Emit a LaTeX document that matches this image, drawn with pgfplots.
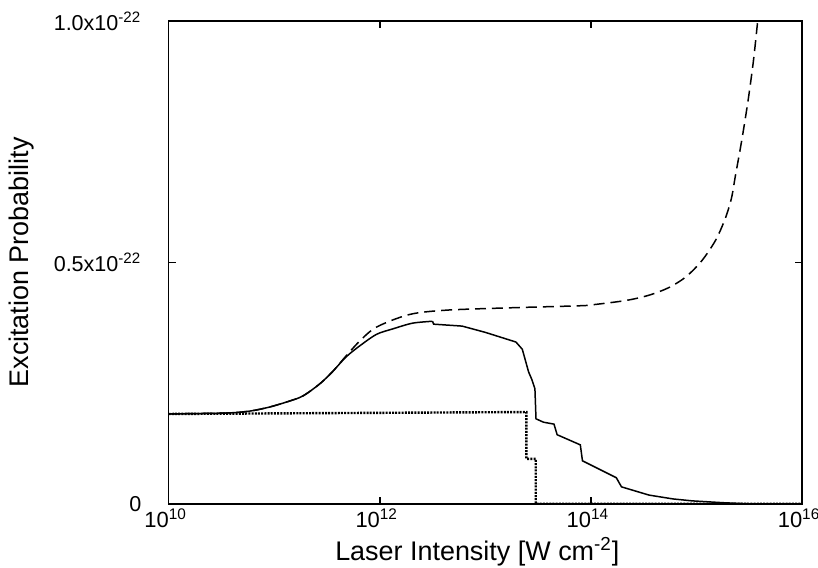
\documentclass[border=0pt]{standalone}
\usepackage{pgfplots}
\pgfplotsset{compat=1.18}
\usetikzlibrary{calc}
\usepackage{fontspec}
\setmainfont{Liberation Sans}
\begin{document}
\begin{tikzpicture}
\begin{axis}[
  scale only axis, width=317.5pt, height=242pt,
  at={(0,0)}, anchor=south west,
  xmode=log, xmin=1e10, xmax=1e16, ymin=0, ymax=1,
  xtick={1e10,1e12,1e14,1e16},
  xticklabels={\textnormal{10\textsuperscript{10}},\textnormal{10\textsuperscript{12}},\textnormal{10\textsuperscript{14}},\textnormal{10\textsuperscript{16}}},
  ytick={0,0.5,1},
  yticklabels={\textnormal{0\hspace{-3.5pt}},\textnormal{0.5x10\textsuperscript{-22}},\textnormal{1.0x10\textsuperscript{-22}}},
  xminorticks=false, yminorticks=false,
  tick align=inside, major tick length=3.5pt,
  every tick/.style={black, line width=0.8pt},
  axis line style={line width=0.9pt},
  every x tick label/.append style={font=\fontsize{11}{12}\selectfont, anchor=north, inner sep=0pt, yshift=-2.5pt, xshift=-1.5pt},
  every y tick label/.append style={font=\fontsize{10.8}{12}\selectfont, anchor=east, inner sep=0pt, xshift=-13.5pt},
  xlabel={Laser Intensity [W cm\textsuperscript{-2}]},
  ylabel={Excitation Probability},
  every axis x label/.style={at={($(rel axis cs:0.5,0)+(-4pt,-28.5pt)$)}, anchor=base, font=\fontsize{13.5}{16}\selectfont},
  every axis y label/.style={at={($(rel axis cs:0,0.5)+(-73.5pt,0pt)$)}, anchor=center, rotate=90, font=\fontsize{13.5}{16}\selectfont},
]
% solid (rising part, smooth)
\addplot[black, line width=0.75pt, smooth, tension=0.5] coordinates {
 (1e10,0.186) (3.55e10,0.188) (5.89e10,0.192) (8.91e10,0.200) (1.32e11,0.211)
 (1.86e11,0.223) (2.69e11,0.248) (3.55e11,0.273) (4.79e11,0.304) (6.46e11,0.327)
 (9.33e11,0.351) (1.32e12,0.362) (2.04e12,0.374) (3.16e12,0.378)
};
% solid (falling part)
\addplot[black, line width=0.75pt] coordinates {
 (3.16e12,0.378) (3.24e12,0.372)
 (6.03e12,0.368) (1e13,0.355) (1.95e13,0.335) (2.24e13,0.320) (2.57e13,0.273)
 (2.75e13,0.258) (2.95e13,0.238) (3.02e13,0.176) (3.55e13,0.169) (4.47e13,0.165)
 (4.79e13,0.143) (7.94e13,0.122) (8.32e13,0.089) (1.74e14,0.054) (1.95e14,0.035)
 (3.55e14,0.018) (6.0e14,0.010) (9.12e14,0.006) (1.86e15,0.002) (3.09e15,0.0) (1e16,0.0)
};
% dashed
\addplot[black, line width=0.75pt, dash pattern=on 5.5pt off 3pt, smooth, tension=0.5] coordinates {
 (1e10,0.186) (3.55e10,0.188) (5.89e10,0.192) (8.91e10,0.200) (1.32e11,0.211)
 (1.86e11,0.223) (2.69e11,0.248) (3.55e11,0.273) (4.79e11,0.306) (6.46e11,0.337)
 (9.33e11,0.366) (1.91e12,0.392) (4.27e12,0.401) (1.78e13,0.406) (7.59e13,0.410)
 (1.02e14,0.412) (2.14e14,0.421) (3.55e14,0.432) (5.50e14,0.448) (7.94e14,0.470)
 (1.12e15,0.503) (1.51e15,0.545) (1.86e15,0.589) (2.14e15,0.632) (2.34e15,0.680)
 (2.69e15,0.754) (3.09e15,0.837) (3.47e15,0.919) (3.80e15,1.000)
};
% dotted
\addplot[black, line width=1.2pt, dash pattern=on 1pt off 0.6pt] coordinates {
 (1e10,0.186) (2.45e13,0.190) (2.45e13,0.093) (3.0e13,0.093) (3.0e13,0.0) (1e16,0.0)
};
\end{axis}
\pgfresetboundingbox
\path (-84.5pt,-32pt) rectangle (325.5pt,252.5pt);
\end{tikzpicture}
\end{document}
